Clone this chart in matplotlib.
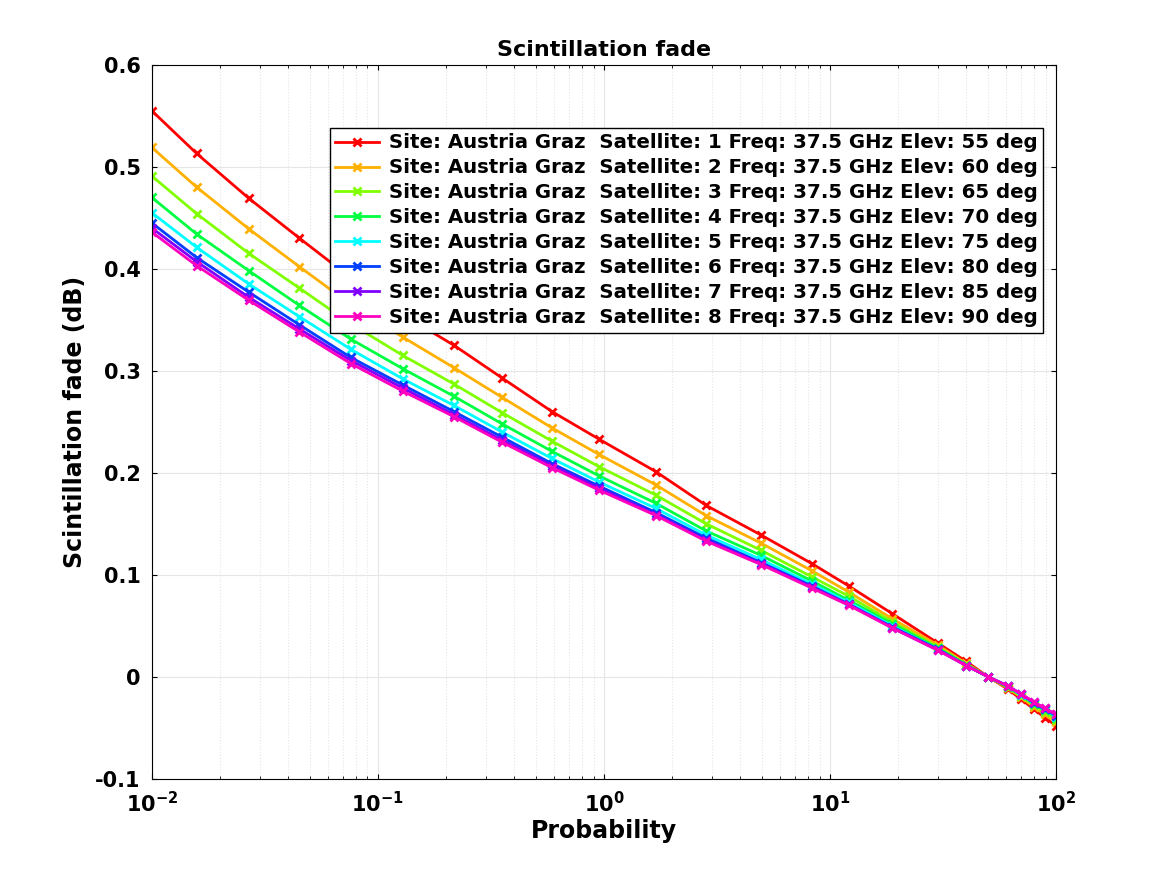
import matplotlib.pyplot as plt
from matplotlib.ticker import LogLocator, NullFormatter

plt.rcParams['font.family'] = 'DejaVu Sans'
plt.rcParams['font.weight'] = 'bold'

prob = [0.01, 0.0158, 0.0269, 0.045, 0.076, 0.129, 0.217, 0.354, 0.589, 0.95,
        1.70, 2.83, 4.95, 8.3, 12.1, 18.8, 30, 40, 50, 61, 70, 80, 89, 100]

sat1 = [0.555, 0.513, 0.469, 0.430, 0.391, 0.355, 0.325, 0.293, 0.260, 0.233, 0.201, 0.168,
        0.139, 0.111, 0.089, 0.062, 0.033, 0.015, 0.0, -0.012, -0.022, -0.032, -0.040, -0.048]
sat2 = [0.519, 0.480, 0.439, 0.402, 0.365, 0.333, 0.303, 0.274, 0.244, 0.218, 0.188, 0.158,
        0.131, 0.104, 0.083, 0.057, 0.031, 0.013, 0.0, -0.011, -0.020, -0.030, -0.037, -0.044]
sat3 = [0.491, 0.454, 0.415, 0.381, 0.346, 0.315, 0.287, 0.259, 0.231, 0.206, 0.178, 0.150,
        0.124, 0.098, 0.079, 0.054, 0.029, 0.012, 0.0, -0.010, -0.019, -0.028, -0.035, -0.042]
sat4 = [0.470, 0.434, 0.398, 0.364, 0.331, 0.302, 0.275, 0.248, 0.221, 0.197, 0.170, 0.143,
        0.119, 0.094, 0.075, 0.052, 0.028, 0.012, 0.0, -0.010, -0.018, -0.027, -0.033, -0.040]
sat5 = [0.455, 0.421, 0.385, 0.353, 0.321, 0.292, 0.266, 0.240, 0.214, 0.191, 0.165, 0.139,
        0.115, 0.091, 0.073, 0.050, 0.027, 0.011, 0.0, -0.009, -0.018, -0.026, -0.032, -0.039]
sat6 = [0.445, 0.411, 0.377, 0.345, 0.313, 0.286, 0.260, 0.235, 0.209, 0.187, 0.161, 0.136,
        0.112, 0.089, 0.071, 0.049, 0.027, 0.011, 0.0, -0.009, -0.017, -0.026, -0.032, -0.038]
sat7 = [0.440, 0.407, 0.372, 0.341, 0.310, 0.283, 0.257, 0.232, 0.207, 0.185, 0.159, 0.134,
        0.111, 0.088, 0.071, 0.048, 0.026, 0.011, 0.0, -0.009, -0.017, -0.025, -0.031, -0.037]
sat8 = [0.436, 0.403, 0.369, 0.338, 0.307, 0.280, 0.255, 0.230, 0.205, 0.183, 0.158, 0.133,
        0.110, 0.087, 0.070, 0.048, 0.026, 0.011, 0.0, -0.009, -0.017, -0.025, -0.031, -0.037]

series = [sat1, sat2, sat3, sat4, sat5, sat6, sat7, sat8]
elevations = [55, 60, 65, 70, 75, 80, 85, 90]
colors = ['#ff0000', '#ffb000', '#80ff00', '#00ff40', '#00ffff', '#0040ff', '#8000ff', '#ff00bf']

fig = plt.figure(figsize=(11.67, 8.75), dpi=100)
ax = fig.add_axes([0.130, 0.110, 0.775, 0.816])

for i, (vals, elev) in enumerate(zip(series, elevations)):
    ax.plot(prob, vals, color=colors[i], linewidth=2, marker='x', markersize=6,
            markeredgewidth=2,
            label=f'Site: Austria Graz  Satellite: {i + 1} Freq: 37.5 GHz Elev: {elev} deg')

ax.set_xscale('log')
ax.set_xlim(0.01, 100)
ax.set_ylim(-0.1, 0.6)
ax.xaxis.set_minor_locator(LogLocator(base=10, subs=range(2, 10)))
ax.xaxis.set_minor_formatter(NullFormatter())
ax.grid(True, which='major', color='#e6e6e6', linewidth=0.8)
ax.grid(True, which='minor', axis='x', color='#e6e6e6', linestyle=':', linewidth=0.8)
ax.tick_params(labelsize=15, direction='in', which='both', top=True, right=True)
ax.tick_params(axis='x', pad=9)
ax.tick_params(axis='y', pad=8)
for lbl in ax.get_xticklabels() + ax.get_yticklabels():
    lbl.set_fontweight('bold')
ax.set_yticks([-0.1, 0, 0.1, 0.2, 0.3, 0.4, 0.5, 0.6])
ax.set_yticklabels(['-0.1', '0', '0.1', '0.2', '0.3', '0.4', '0.5', '0.6'])

ax.set_title('Scintillation fade', fontsize=16, fontweight='bold')
ax.set_xlabel('Probability', fontsize=17, fontweight='bold', labelpad=2)
ax.set_ylabel('Scintillation fade (dB)', fontsize=17, fontweight='bold', labelpad=6)

leg = ax.legend(loc='upper right', bbox_to_anchor=(0.986, 0.912), fontsize=14.2,
                fancybox=False, framealpha=1, edgecolor='black', handlelength=2.2,
                handletextpad=0.5, borderaxespad=0, labelspacing=0.3, borderpad=0.3)
for t in leg.get_texts():
    t.set_fontweight('bold')

fig.savefig('out.png', dpi=100)
